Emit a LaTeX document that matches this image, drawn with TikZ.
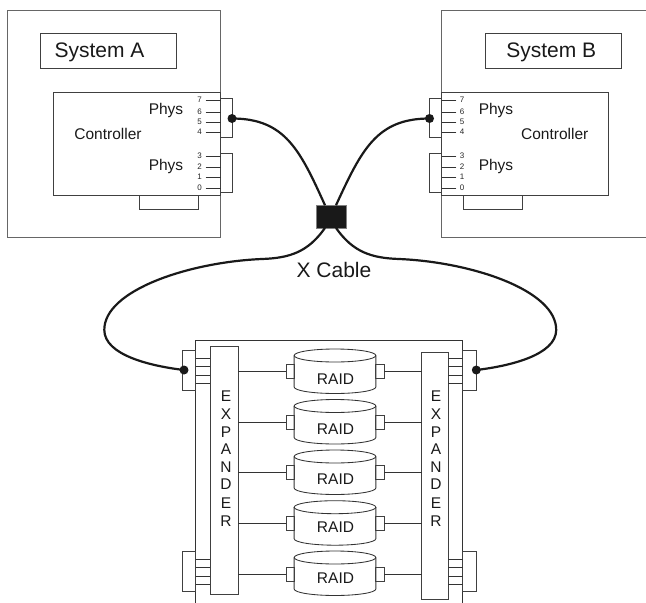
\documentclass[tikz,border=0pt]{standalone}
\usepackage{fontspec}
\setmainfont{Liberation Sans}
\usetikzlibrary{calc}
\tikzset{
	hwbox/.style={draw=black!75, line width=0.85pt, inner sep=0pt, outer sep=0pt},
	outerline/.style={draw=black!60, line width=1pt},
	hwline/.style={draw=black!80, line width=0.85pt},
	cable/.style={draw=black!90, line width=2.2pt},
	cabledot/.style={circle, fill=black!90, inner sep=0pt, minimum size=9pt},
	titletext/.style={inner sep=0pt, anchor=base, text=black!90, font=\fontsize{21}{24}\selectfont},
	labeltext/.style={inner sep=0pt, anchor=base, text=black!90, font=\fontsize{15.5}{18}\selectfont},
	phytext/.style={inner sep=0pt, anchor=base, text=black!85, font=\fontsize{8}{10}\selectfont}
}
\def\hwrect(#1)(#2,#3)(#4,#5){\node[hwbox, minimum width={(#4-#2)*1pt}, minimum height={(#5-#3)*1pt}] (#1) at ({(#2+#4)/2},{(#3+#5)/2}) {};}
\def\phyleft(#1)(#2)#3{\node[phytext] (#1) at (199.7,#2+2.8) {#3}; \draw[hwline] (205.7,#2) -- (ctlA.east |- 0,#2);}
\def\phyright(#1)(#2)#3{\node[phytext] (#1) at (462,#2+2.8) {#3}; \draw[hwline] (456.3,#2) -- (ctlB.west |- 0,#2);}
\def\raiddisk(#1)(#2)(#3){
	\draw[hwline] (335,#2+6.5) ellipse (40.85 and 6.5);
	\draw[hwline] (294.15,#2+6.5) -- (294.15,#2+38) arc (180:0:40.85 and 6.5) -- (375.85,#2+6.5);
	\node[labeltext] (#1) at (335.5,#3) {RAID};
}
\begin{document}
\begin{tikzpicture}[x=1pt, y=-1pt]
	\useasboundingbox (0,0) rectangle (646,603);
	
	%%%%% system A %%%%%
	\draw[outerline] (7.5,10) rectangle (220,237);
	\hwrect(nameA)(40.5,33)(176,68);
	\node[titletext] (titleA) at (99.5,57.3) {System A};
	\hwrect(ctlA)(53.5,92.5)(220.5,195);
	\hwrect(portA1)(220.5,98)(232,137);
	\hwrect(portA0)(220.5,153)(232,192);
	\hwrect(tabA)(139.5,195)(198,209);
	\node[labeltext] (phyA1) at (166,114) {Phys};
	\node[labeltext] (phyA0) at (166,170) {Phys};
	\node[labeltext] (ctlnameA) at (108,139.3) {Controller};
	\phyleft(a7)(100){7}
	\phyleft(a6)(112){6}
	\phyleft(a5)(122){5}
	\phyleft(a4)(132){4}
	\phyleft(a3)(156){3}
	\phyleft(a2)(167){2}
	\phyleft(a1)(177){1}
	\phyleft(a0)(188){0}
	
	%%%%% system B %%%%%
	\draw[outerline] (646,10) -- (441.5,10) -- (441.5,237) -- (646,237);
	\hwrect(nameB)(485.3,33)(621.3,68);
	\node[titletext] (titleB) at (551.3,57.3) {System B};
	\hwrect(ctlB)(441.5,92.5)(608,195);
	\hwrect(portB1)(429.5,98)(441.5,137);
	\hwrect(portB0)(429.5,153)(441.5,192);
	\hwrect(tabB)(463.7,195)(522.3,209);
	\node[labeltext] (phyB1) at (496,114) {Phys};
	\node[labeltext] (phyB0) at (496,170) {Phys};
	\node[labeltext] (ctlnameB) at (554.7,139.3) {Controller};
	\phyright(b7)(100){7}
	\phyright(b6)(112){6}
	\phyright(b5)(122){5}
	\phyright(b4)(132){4}
	\phyright(b3)(156){3}
	\phyright(b2)(167){2}
	\phyright(b1)(177){1}
	\phyright(b0)(188){0}
	
	%%%%% enclosure %%%%%
	\draw[hwline] (195.7,603) -- (195.7,340) -- (462.7,340) -- (462.7,603);
	\hwrect(expL)(210.3,346.7)(238,594);
	\hwrect(expR)(421.7,352)(448.3,599.3);
	\hwrect(inL1)(182.3,350.7)(195.7,390.3);
	\hwrect(inL0)(182.3,551.3)(195.7,591);
	\hwrect(inR1)(462.7,350.7)(476.7,390.3);
	\hwrect(inR0)(462.7,551.3)(476.7,591);
	
	\draw[hwline] (inL1.east |- 0,358.3) -- (expL.west |- 0,358.3);
	\draw[hwline] (inL1.east |- 0,366.7) -- (expL.west |- 0,366.7);
	\draw[hwline] (inL1.east |- 0,375) -- (expL.west |- 0,375);
	\draw[hwline] (inL1.east |- 0,383.3) -- (expL.west |- 0,383.3);
	\draw[hwline] (inL0.east |- 0,559) -- (expL.west |- 0,559);
	\draw[hwline] (inL0.east |- 0,567.7) -- (expL.west |- 0,567.7);
	\draw[hwline] (inL0.east |- 0,576) -- (expL.west |- 0,576);
	\draw[hwline] (inL0.east |- 0,584.7) -- (expL.west |- 0,584.7);
	\draw[hwline] (expR.east |- 0,358.3) -- (inR1.west |- 0,358.3);
	\draw[hwline] (expR.east |- 0,366.7) -- (inR1.west |- 0,366.7);
	\draw[hwline] (expR.east |- 0,375) -- (inR1.west |- 0,375);
	\draw[hwline] (expR.east |- 0,383.3) -- (inR1.west |- 0,383.3);
	\draw[hwline] (expR.east |- 0,559) -- (inR0.west |- 0,559);
	\draw[hwline] (expR.east |- 0,567.7) -- (inR0.west |- 0,567.7);
	\draw[hwline] (expR.east |- 0,576) -- (inR0.west |- 0,576);
	\draw[hwline] (expR.east |- 0,584.7) -- (inR0.west |- 0,584.7);
	
	\node[labeltext] (eL1) at (226,401) {E};
	\node[labeltext] (eL2) at (226,419) {X};
	\node[labeltext] (eL3) at (226,437) {P};
	\node[labeltext] (eL4) at (226,454.5) {A};
	\node[labeltext] (eL5) at (226,472) {N};
	\node[labeltext] (eL6) at (226,489.5) {D};
	\node[labeltext] (eL7) at (226,508) {E};
	\node[labeltext] (eL8) at (226,526) {R};
	\node[labeltext] (eR1) at (436,401) {E};
	\node[labeltext] (eR2) at (436,419) {X};
	\node[labeltext] (eR3) at (436,437) {P};
	\node[labeltext] (eR4) at (436,454.5) {A};
	\node[labeltext] (eR5) at (436,472) {N};
	\node[labeltext] (eR6) at (436,489.5) {D};
	\node[labeltext] (eR7) at (436,508) {E};
	\node[labeltext] (eR8) at (436,526) {R};
	
	%%%%% disks %%%%%
	\raiddisk(raid1)(349)(384.5)
	\raiddisk(raid2)(399.5)(434.5)
	\raiddisk(raid3)(450)(484.5)
	\raiddisk(raid4)(500.7)(532.5)
	\raiddisk(raid5)(551)(583.5)
	
	\hwrect(dL1)(286,364.7)(294.15,378.7);
	\hwrect(dL2)(286,415)(294.15,429);
	\hwrect(dL3)(286,465.7)(294.15,479.7);
	\hwrect(dL4)(286,516.5)(294.15,530.5);
	\hwrect(dL5)(286,567)(294.15,581);
	\hwrect(dR1)(375.85,364.7)(384,378.7);
	\hwrect(dR2)(375.85,415)(384,429);
	\hwrect(dR3)(375.85,465.7)(384,479.7);
	\hwrect(dR4)(375.85,516.5)(384,530.5);
	\hwrect(dR5)(375.85,567)(384,581);
	
	\draw[hwline] (expL.east |- dL1.west) -- (dL1.west);
	\draw[hwline] (expL.east |- dL2.west) -- (dL2.west);
	\draw[hwline] (expL.east |- dL3.west) -- (dL3.west);
	\draw[hwline] (expL.east |- dL4.west) -- (dL4.west);
	\draw[hwline] (expL.east |- dL5.west) -- (dL5.west);
	\draw[hwline] (dR1.east) -- (expR.west |- dR1.east);
	\draw[hwline] (dR2.east) -- (expR.west |- dR2.east);
	\draw[hwline] (dR3.east) -- (expR.west |- dR3.east);
	\draw[hwline] (dR4.east) -- (expR.west |- dR4.east);
	\draw[hwline] (dR5.east) -- (expR.west |- dR5.east);
	
	%%%%% x cable %%%%%
	\node[hwbox, draw=black!50, fill=black!90, minimum width=29.6pt, minimum height=22.7pt] (xblock) at (331.5,216.6) {};
	\node[titletext] (xname) at (334,277.3) {X Cable};
	\node[cabledot] (dotA) at (232,118.5) {};
	\node[cabledot] (dotB) at (429.5,118.5) {};
	\node[cabledot] (dotL) at (184,370) {};
	\node[cabledot] (dotR) at (476.3,370) {};
	\coordinate (xtl) at ($(xblock.north)+(-6.5,0)$);
	\coordinate (xtr) at ($(xblock.north)+(4.5,0)$);
	\coordinate (xbl) at ($(xblock.south)+(-6.5,0)$);
	\coordinate (xbr) at ($(xblock.south)+(4.5,0)$);
	
	\draw[cable] (dotA.center) .. controls (285,118.5) and (300,150) .. (xtl);
	\draw[cable] (dotB.center) .. controls (376.5,118.5) and (361.5,150) .. (xtr);
	\draw[cable] (xbl) .. controls (308,252) and (290,258) .. (262,259) .. controls (190,262) and (104,290) .. (104.3,330) .. controls (104.5,355) and (150,366) .. (dotL.center);
	\draw[cable] (xbr) .. controls (353,252) and (371,258) .. (399,259) .. controls (471,262) and (556.5,290) .. (556.2,330) .. controls (556,355) and (510,366) .. (dotR.center);
\end{tikzpicture}
\end{document}
